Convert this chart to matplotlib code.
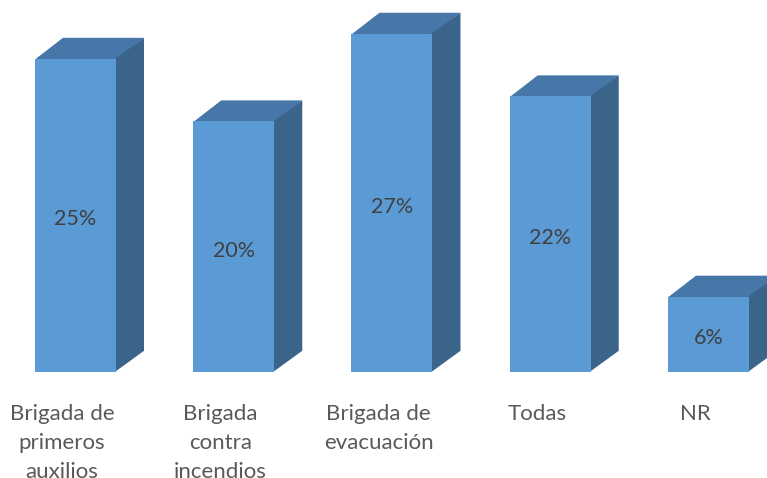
import matplotlib
matplotlib.use('Agg')
import matplotlib.pyplot as plt
from matplotlib.patches import Polygon

categories = ['Brigada de\nprimeros\nauxilios', 'Brigada\ncontra\nincendios',
              'Brigada de\nevacuación', 'Todas', 'NR']
values = [25, 20, 27, 22, 6]
labels = ['25%', '20%', '27%', '22%', '6%']

FRONT = '#5b9bd5'
TOP = '#4677a8'
SIDE = '#3a6489'
VALUE_TEXT = '#404040'
CAT_TEXT = '#595959'

plt.rcParams['font.family'] = ['Lato', 'DejaVu Sans']

fig = plt.figure(figsize=(7.67, 4.78), dpi=100)
ax = fig.add_axes([0, 0, 1, 1])
ax.set_xlim(-0.477, 4.37)
ax.set_ylim(-8.48, 29.70)
ax.axis('off')

bar_width = 0.512
depth_x = 0.177
depth_y = 1.68
seam = 0.006  # faces run slightly under the front to hide the antialiased join

positions = range(len(values))
ax.bar(positions, values, width=bar_width, color=FRONT, linewidth=0, zorder=2)

for i, v in zip(positions, values):
    left = i - bar_width / 2
    right = i + bar_width / 2
    ax.add_patch(Polygon([(left, v - 0.05), (right, v - 0.05), (right + depth_x, v + depth_y), (left + depth_x, v + depth_y)],
                         closed=True, facecolor=TOP, linewidth=0, zorder=1))
    ax.add_patch(Polygon([(right - seam, 0), (right + depth_x, depth_y), (right + depth_x, v + depth_y), (right - seam, v)],
                         closed=True, facecolor=SIDE, linewidth=0, zorder=1))
    ax.text(i, v / 2 - 0.33, labels[i], ha='center', va='center', fontsize=15.5, color=VALUE_TEXT, zorder=3)
    ax.text(i - 0.085, -2.55, categories[i], ha='center', va='top', fontsize=16, color=CAT_TEXT,
            linespacing=1.58, zorder=3)

fig.savefig('out.png', dpi=100)
